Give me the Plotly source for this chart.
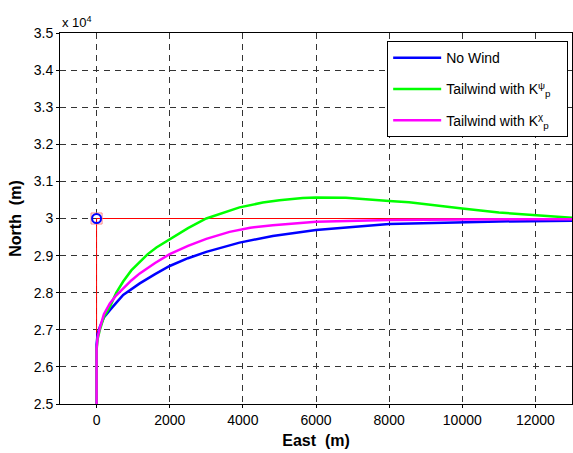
import plotly.graph_objects as go

# ---- data (East, North in metres) ----
nowind_east = [0, 0, 30, 90, 200, 363, 727, 1181, 1600, 2000, 2500, 3000, 3909, 4818, 6000, 7273, 8000, 9818, 11000, 13000]
nowind_north = [25000, 26600, 26900, 27080, 27330, 27530, 27940, 28250, 28500, 28720, 28930, 29100, 29350, 29530, 29690, 29800, 29850, 29890, 29920, 29940]

kpsi_east = [0, 0, 30, 90, 200, 363, 540, 727, 950, 1181, 1400, 1636, 2000, 2500, 3000, 3636, 3909, 4545, 5000, 5636, 6000, 6818, 7545, 8000, 8545, 9182, 10000, 11000, 12000, 13000]
kpsi_north = [25000, 26450, 26750, 27000, 27350, 27620, 28000, 28300, 28600, 28840, 29040, 29220, 29440, 29740, 30000, 30210, 30300, 30430, 30490, 30550, 30565, 30560, 30500, 30470, 30440, 30360, 30270, 30160, 30090, 30020]

kchi_east = [0, 0, 30, 90, 200, 363, 540, 727, 950, 1181, 1600, 2000, 2500, 3000, 3636, 4200, 4818, 6000, 8000, 10000, 13000]
kchi_north = [25000, 26500, 26800, 27050, 27420, 27710, 27930, 28120, 28330, 28520, 28800, 29040, 29260, 29450, 29640, 29750, 29820, 29910, 29960, 29975, 29980]

ref_east = [0, 0, 13000]
ref_north = [25000, 30000, 30000]
target_east = [0]
target_north = [30000]

series_names = ["No Wind",
                "Tailwind with K<sup>ψ</sup><sub>p</sub>\u00a0\u00a0\u00a0",
                "Tailwind with K<sup>χ</sup><sub>p</sub>\u00a0\u00a0\u00a0"]

y_tick_vals = [25000, 26000, 27000, 28000, 29000, 30000, 31000, 32000, 33000, 34000, 35000]
y_tick_text = ["2.5", "2.6", "2.7", "2.8", "2.9", "3", "3.1", "3.2", "3.3", "3.4", "3.5"]
x_tick_vals = [0, 2000, 4000, 6000, 8000, 10000, 12000]
x_tick_text = ["0", "2000", "4000", "6000", "8000", "10000", "12000"]

FONT = "Liberation Sans, Arial, sans-serif"

fig = go.Figure()
fig.add_trace(go.Scatter(x=ref_east, y=ref_north, mode="lines",
                         line=dict(color="red", width=1), showlegend=False, hoverinfo="skip"))
fig.add_trace(go.Scatter(x=nowind_east, y=nowind_north, mode="lines", name=series_names[0],
                         legendgroup="a", line=dict(color="#0000ff", width=2.5)))
fig.add_trace(go.Scatter(x=kpsi_east, y=kpsi_north, mode="lines", name=series_names[1],
                         legendgroup="b", line=dict(color="#00ff00", width=2.5)))
fig.add_trace(go.Scatter(x=kchi_east, y=kchi_north, mode="lines", name=series_names[2],
                         legendgroup="c", line=dict(color="#ff00ff", width=2.5)))
fig.add_trace(go.Scatter(x=target_east, y=target_north, mode="markers", showlegend=False,
                         marker=dict(symbol="square-open", size=11, color="#ff8080",
                                     line=dict(width=1, color="#ff6060"))))
fig.add_trace(go.Scatter(x=target_east, y=target_north, mode="markers", showlegend=False,
                         marker=dict(symbol="circle-open", size=9, color="#0000ff",
                                     line=dict(width=2, color="#0000ff"))))

grid = dict(showgrid=True, gridcolor="#333333", griddash="6px,5px", gridwidth=1)
fig.update_xaxes(range=[-1000, 13000], tickvals=x_tick_vals, ticktext=x_tick_text, zeroline=False,
                 showline=True, linecolor="black", linewidth=1, mirror=True,
                 ticks="outside", ticklen=3, tickcolor="black", automargin=False,
                 tickfont=dict(family=FONT, size=14, color="black"),
                 title=dict(text="<b>East  (m)</b>", font=dict(family=FONT, size=16, color="black"),
                            standoff=8),
                 **grid)
fig.update_yaxes(range=[25000, 35000], tickvals=y_tick_vals, ticktext=y_tick_text, zeroline=False,
                 showline=True, linecolor="black", linewidth=1, mirror=True,
                 ticks="outside", ticklen=3, tickcolor="black", automargin=False,
                 tickfont=dict(family=FONT, size=14, color="black"),
                 title=dict(text="<b>North  (m)</b>", font=dict(family=FONT, size=16, color="black"),
                            standoff=8),
                 **grid)

fig.add_annotation(text="x 10<sup>4</sup>", xref="paper", yref="paper", x=0.0, y=1.0,
                   xanchor="left", yanchor="bottom", showarrow=False, yshift=1,
                   font=dict(family=FONT, size=13, color="black"))

fig.update_layout(
    width=573, height=453,
    margin=dict(l=60, r=1, t=33, b=49),
    plot_bgcolor="white", paper_bgcolor="white",
    legend=dict(x=0.639, y=0.978, xanchor="left", yanchor="top",
                bgcolor="white", bordercolor="black", borderwidth=1,
                font=dict(family=FONT, size=14, color="black"),
                itemwidth=48, tracegroupgap=10),
)

fig.write_html("out.html", config={"displayModeBar": False},
               post_script="document.body.style.margin='0';document.body.style.overflow='hidden';")
